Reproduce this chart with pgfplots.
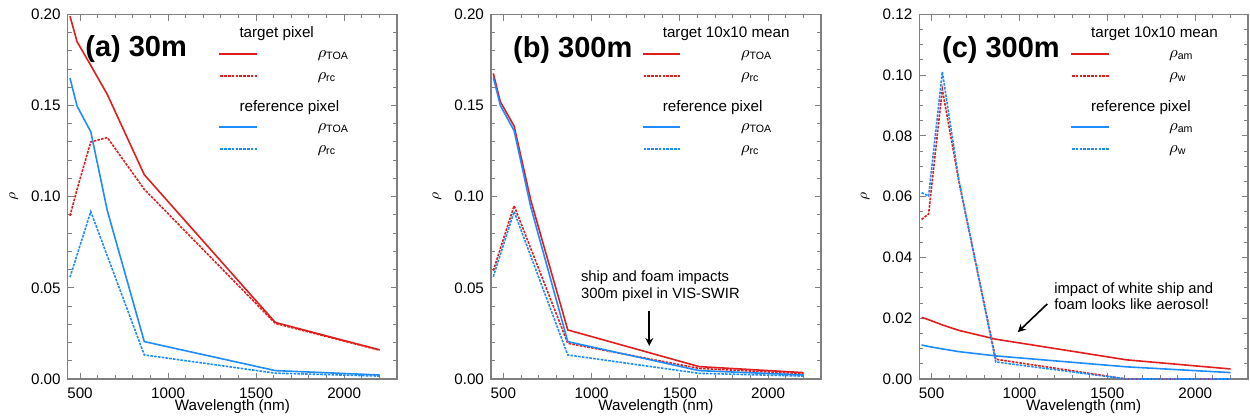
\documentclass[border=0pt]{standalone}
\usepackage{pgfplots}
\pgfplotsset{compat=1.18}
\usepackage{fontspec}
\setmainfont{Liberation Sans}
\usetikzlibrary{arrows.meta}
\definecolor{cred}{RGB}{224,30,30}
\definecolor{cblue}{RGB}{30,140,255}
\newcommand\lf{\fontsize{7.6}{9}\selectfont}
\newcommand\af{\fontsize{7.4}{8.3}\selectfont}
\newcommand\tf{\fontsize{14.5}{16}\selectfont\bfseries}
\tikzset{
  solidl/.style={line width=0.8pt, solid},
  dashl/.style={line width=0.8pt, dash pattern=on 1.3pt off 0.6pt},
}
\pgfplotsset{
  myaxis/.style={
    scale only axis, height=182.35pt,
    xmin=430, xmax=2300,
    xtick={500,1000,1500,2000},
    minor xtick={600,700,800,900,1100,1200,1300,1400,1600,1700,1800,1900,2100,2200},
    tick align=inside, xtick pos=both, ytick pos=both,
    major tick length=3.2pt, minor tick length=2pt,
    axis line style={black!50, line width=0.6pt},
    every tick/.style={black!50, line width=0.5pt},
    tick label style={font=\lf, black},
    /pgf/number format/assume math mode=true,
    x tick label style={/pgf/number format/set thousands separator={}, yshift=-0.8pt},
    y tick label style={/pgf/number format/.cd, fixed, fixed zerofill, precision=2},
    xlabel={Wavelength (nm)},
    every axis x label/.style={at={(axis description cs:0.5,0)}, anchor=center, yshift=-13.9pt, font=\lf},
    clip=false,
  }
}
\newcommand\legendblock[3]{%
  \node[anchor=west, font=\lf, inner sep=0pt] at ([xshift=85.7pt,yshift=-9.85pt]rel axis cs:0,1) {#1};
  \draw[cred, solidl] ([xshift=94.7pt,yshift=-19.85pt]rel axis cs:0,1) -- ++(19pt,0);
  \node[anchor=base west, font=\lf, inner sep=0pt] at ([xshift=124.7pt,yshift=-21.6pt]rel axis cs:0,1) {\(\rho\)\textsubscript{#2}};
  \draw[cred, dashl] ([xshift=94.7pt,yshift=-30.85pt]rel axis cs:0,1) -- ++(19pt,0);
  \node[anchor=base west, font=\lf, inner sep=0pt] at ([xshift=124.7pt,yshift=-32.6pt]rel axis cs:0,1) {\(\rho\)\textsubscript{#3}};
  \node[anchor=west, font=\lf, inner sep=0pt] at ([xshift=85.7pt,yshift=-46.7pt]rel axis cs:0,1) {reference pixel};
  \draw[cblue, solidl] ([xshift=94.7pt,yshift=-56.35pt]rel axis cs:0,1) -- ++(19pt,0);
  \node[anchor=base west, font=\lf, inner sep=0pt] at ([xshift=124.7pt,yshift=-58.1pt]rel axis cs:0,1) {\(\rho\)\textsubscript{#2}};
  \draw[cblue, dashl] ([xshift=94.7pt,yshift=-67.35pt]rel axis cs:0,1) -- ++(19pt,0);
  \node[anchor=base west, font=\lf, inner sep=0pt] at ([xshift=124.7pt,yshift=-69.1pt]rel axis cs:0,1) {\(\rho\)\textsubscript{#3}};
  \node[rotate=90, font=\fontsize{7}{8}\selectfont] at ([xshift=-27pt]rel axis cs:0,0.5) {\(\rho\)};
}
\begin{document}
\begin{tikzpicture}
\path[use as bounding box] (0,0) rectangle (625pt,208.5pt);

% ---------------- (a) ----------------
\begin{axis}[myaxis, at={(33.85pt,19pt)}, anchor=south west, width=164.65pt,
  ymin=0, ymax=0.2, ytick={0,0.05,0.1,0.15,0.2},
  minor ytick={0.01,0.02,0.03,0.04,0.06,0.07,0.08,0.09,0.11,0.12,0.13,0.14,0.16,0.17,0.18,0.19}]
\addplot[cred, solidl] coordinates {(443,0.199)(483,0.185)(561,0.172)(655,0.156)(865,0.112)(1609,0.031)(2201,0.016)};
\addplot[cred, dashl] coordinates {(443,0.0895)(483,0.104)(561,0.130)(655,0.1324)(865,0.104)(1609,0.0305)(2201,0.0158)};
\addplot[cblue, solidl] coordinates {(443,0.165)(483,0.1497)(561,0.1356)(655,0.0923)(865,0.0205)(1609,0.0046)(2201,0.0022)};
\addplot[cblue, dashl] coordinates {(443,0.0558)(483,0.068)(561,0.0918)(655,0.0675)(865,0.0132)(1609,0.0032)(2201,0.0016)};
\legendblock{target pixel}{TOA}{rc}
\node[anchor=west, font=\tf, inner sep=0pt] at ([xshift=8.65pt,yshift=-17.2pt]rel axis cs:0,1) {(a) 30m};
\end{axis}

% ---------------- (b) ----------------
\begin{axis}[myaxis, at={(245.5pt,19pt)}, anchor=south west, width=165pt,
  ymin=0, ymax=0.2, ytick={0,0.05,0.1,0.15,0.2},
  minor ytick={0.01,0.02,0.03,0.04,0.06,0.07,0.08,0.09,0.11,0.12,0.13,0.14,0.16,0.17,0.18,0.19}]
\addplot[cred, solidl] coordinates {(443,0.1676)(483,0.152)(561,0.1387)(655,0.0982)(865,0.0269)(1609,0.0068)(2201,0.0035)};
\addplot[cred, dashl] coordinates {(443,0.0594)(483,0.0715)(561,0.095)(655,0.0717)(865,0.0196)(1609,0.0058)(2201,0.0029)};
\addplot[cblue, solidl] coordinates {(443,0.1654)(483,0.150)(561,0.1362)(655,0.0945)(865,0.0205)(1609,0.0046)(2201,0.0022)};
\addplot[cblue, dashl] coordinates {(443,0.0561)(483,0.0682)(561,0.0918)(655,0.0675)(865,0.0132)(1609,0.0031)(2201,0.0016)};
\legendblock{target 10x10 mean}{TOA}{rc}
\node[anchor=west, font=\tf, inner sep=0pt] at ([xshift=10.85pt,yshift=-17.85pt]rel axis cs:0,1) {(b) 300m};
\node[anchor=west, align=left, font=\af, inner sep=0pt] at (axis cs:938,0.0508) {ship and foam impacts\\300m pixel in VIS-SWIR};
\draw[-{Stealth[length=4pt,width=4pt]}, line width=0.8pt] (axis cs:1327,0.0373) -- (axis cs:1327,0.0181);
\end{axis}

% ---------------- (c) ----------------
\begin{axis}[myaxis, at={(459.65pt,19pt)}, anchor=south west, width=164.35pt,
  ymin=0, ymax=0.12, ytick={0,0.02,0.04,0.06,0.08,0.1,0.12},
  minor ytick={0.005,0.01,0.015,0.025,0.03,0.035,0.045,0.05,0.055,0.065,0.07,0.075,0.085,0.09,0.095,0.105,0.11,0.115}]
\addplot[cred, solidl] coordinates {(443,0.0203)(483,0.0195)(561,0.0178)(655,0.0160)(865,0.0131)(1609,0.0063)(2201,0.0033)};
\addplot[cblue, solidl] coordinates {(443,0.0112)(483,0.0107)(561,0.0099)(655,0.0090)(865,0.0076)(1609,0.0040)(2201,0.0021)};
\addplot[cred, dashl] coordinates {(443,0.0525)(483,0.0543)(561,0.0953)(655,0.0650)(865,0.0065)(1609,0)(2201,0)};
\addplot[cblue, dashl] coordinates {(443,0.0613)(483,0.0602)(561,0.1011)(655,0.0655)(865,0.0056)(1609,0)(2201,0)};
\legendblock{target 10x10 mean}{am}{w}
\node[anchor=west, font=\tf, inner sep=0pt] at ([xshift=11.2pt,yshift=-17.85pt]rel axis cs:0,1) {(c) 300m};
\node[anchor=west, align=left, font=\af, inner sep=0pt] at (axis cs:1196,0.0272) {impact of white ship and\\foam looks like aerosol!};
\draw[-{Stealth[length=4pt,width=4pt]}, line width=0.8pt] (axis cs:1158,0.0247) -- (axis cs:990,0.0154);
\end{axis}
\end{tikzpicture}
\end{document}
